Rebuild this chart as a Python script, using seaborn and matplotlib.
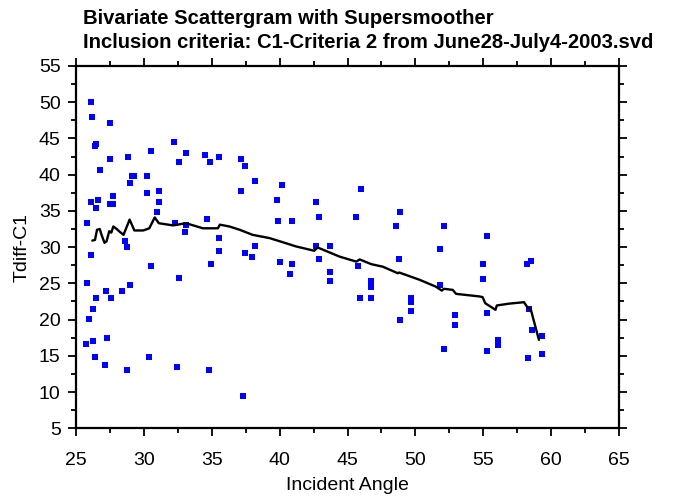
import matplotlib
matplotlib.use("Agg")
import matplotlib.pyplot as plt
from matplotlib.ticker import MultipleLocator
import seaborn as sns
import pandas as pd

# Scatter data (Incident Angle vs Tdiff-C1)
angle = [26.1, 26.2, 27.5, 26.4, 26.5, 32.2, 30.5, 33.1, 34.5, 35.5,
         27.5, 28.85, 32.6, 34.9, 26.8, 29.1, 29.3, 30.2, 29.0, 30.2,
         31.1, 26.1, 26.6, 26.5, 27.5, 27.7, 27.7, 31.1, 31.0, 25.8,
         32.3, 33.1, 33.0, 34.65, 35.5, 35.5, 28.6, 28.75, 26.1, 30.5,
         34.95, 32.6, 25.8, 27.2, 28.4, 29.0, 26.5, 27.6, 26.25, 25.95,
         27.3, 25.7, 26.25, 26.4, 30.4, 27.1, 28.75, 32.45, 34.8, 37.15,
         37.45, 38.2, 40.2, 37.15, 39.8, 42.7, 46.0, 39.9, 40.9, 42.9,
         45.6, 38.2, 37.45, 38.0, 42.7, 43.7, 42.9, 40.05, 40.9, 40.75,
         43.7, 43.7, 45.75, 46.7, 46.7, 45.9, 46.7, 37.3, 48.9, 48.6,
         52.1, 55.25, 51.8, 48.8, 55.0, 58.2, 58.5, 55.0, 51.8, 49.7,
         49.7, 49.7, 48.9, 52.9, 52.9, 55.25, 52.1, 55.25, 56.1, 56.1,
         58.3, 58.35, 58.6, 59.3, 59.3]
tdiff = [50.0, 47.9, 47.1, 44.0, 44.2, 44.5, 43.3, 43.0, 42.7, 42.5,
         42.2, 42.4, 41.7, 41.7, 40.7, 39.8, 39.8, 39.8, 38.8, 37.5,
         37.7, 36.2, 36.5, 35.4, 35.9, 35.9, 37.0, 36.2, 34.9, 33.3,
         33.3, 33.1, 32.1, 33.9, 31.2, 29.4, 30.8, 30.0, 28.9, 27.4,
         27.65, 25.8, 25.0, 24.0, 24.0, 24.75, 23.0, 23.0, 21.4, 20.1,
         17.5, 16.7, 17.0, 14.9, 14.9, 13.8, 13.05, 13.4, 13.05, 42.2,
         41.2, 39.1, 38.6, 37.7, 36.5, 36.2, 38.05, 33.6, 33.6, 34.2,
         34.2, 30.2, 29.2, 28.7, 30.2, 30.2, 28.4, 27.9, 27.65, 26.35,
         26.6, 25.3, 27.4, 25.3, 24.55, 23.0, 23.0, 9.4, 34.9, 32.85,
         32.85, 31.5, 29.7, 28.4, 27.65, 27.65, 28.1, 25.6, 24.75, 23.0,
         22.4, 21.15, 19.9, 20.6, 19.3, 20.9, 15.9, 15.7, 17.2, 16.5,
         14.7, 21.4, 18.5, 17.75, 15.2]

# Supersmoother curve
smooth_x = [26.2, 26.4, 26.55, 26.75, 26.9, 27.1, 27.25, 27.45, 27.6, 27.75,
            28.0, 28.2, 28.5, 28.95, 29.3, 29.95, 30.4, 30.8, 31.1, 32.15,
            33.1, 34.35, 35.45, 35.6, 36.3, 37.05, 38.0, 39.25, 40.45, 41.2,
            42.55, 42.8, 43.7, 44.4, 45.65, 45.9, 46.75, 47.6, 48.7, 48.8,
            50.3, 51.5, 51.95, 52.1, 52.75, 53.0, 54.7, 54.95, 55.15, 55.9,
            56.0, 56.9, 58.0, 58.25, 58.5, 59.1]
smooth_y = [30.9, 31.0, 32.4, 32.5, 31.6, 30.6, 30.8, 32.2, 32.0, 32.85,
            32.5, 32.15, 31.7, 33.8, 32.3, 32.3, 32.6, 34.1, 33.3, 33.0,
            33.3, 32.6, 32.6, 33.1, 32.85, 32.4, 31.7, 31.25, 30.55, 30.1,
            29.5, 29.95, 29.25, 28.7, 28.0, 28.3, 27.65, 27.3, 26.4, 26.5,
            25.5, 24.55, 24.0, 24.25, 24.1, 23.55, 23.2, 23.1, 22.25, 21.35,
            21.95, 22.2, 22.4, 21.7, 21.4, 17.2]

title_lines = ["Bivariate Scattergram with Supersmoother",
               "Inclusion criteria: C1-Criteria 2 from June28-July4-2003.svd"]
x_label = "Incident Angle"
y_label = "Tdiff-C1"

sns.set_theme(style="ticks")
plt.rcParams['font.family'] = ['Liberation Sans', 'DejaVu Sans']

fig = plt.figure(figsize=(6.81, 4.98), dpi=100)
ax = fig.add_axes([0.1116, 0.14, 0.7974, 0.7275])

pts = pd.DataFrame({"angle": angle, "tdiff": tdiff})
sm = pd.DataFrame({"x": smooth_x, "y": smooth_y})

sns.scatterplot(data=pts, x="angle", y="tdiff", ax=ax, marker="s", s=16,
                color="#0000FF", linewidth=0, zorder=3)
sns.lineplot(data=sm, x="x", y="y", ax=ax, sort=False, estimator=None,
             color="black", linewidth=1.7, zorder=4)

ax.set_xlim(25, 65)
ax.set_ylim(5, 55)
ax.xaxis.set_major_locator(MultipleLocator(5))
ax.xaxis.set_minor_locator(MultipleLocator(2.5))
ax.yaxis.set_major_locator(MultipleLocator(5))
ax.yaxis.set_minor_locator(MultipleLocator(2.5))

for sp in ax.spines.values():
    sp.set_visible(True)
    sp.set_linewidth(1.6)
    sp.set_color("black")

ax.tick_params(which="both", direction="out", top=True, right=True,
               color="black", width=1.3)
ax.tick_params(which="major", length=6, labelsize=14, labelcolor="black")
ax.tick_params(which="minor", length=3.5)
ax.tick_params(axis="x", which="major", pad=11)
ax.tick_params(axis="y", which="major", pad=5)

ax.set_xlabel(x_label, fontsize=14, color="black", labelpad=6)
ax.set_ylabel(y_label, fontsize=14, color="black", labelpad=6)

fig.text(83 / 681, 1 - 24 / 498, title_lines[0], fontsize=14.6, fontweight="bold",
         ha="left", va="baseline", color="black")
fig.text(83 / 681, 1 - 48 / 498, title_lines[1], fontsize=14.6, fontweight="bold",
         ha="left", va="baseline", color="black")

fig.savefig("out.png", dpi=100, facecolor="white")
